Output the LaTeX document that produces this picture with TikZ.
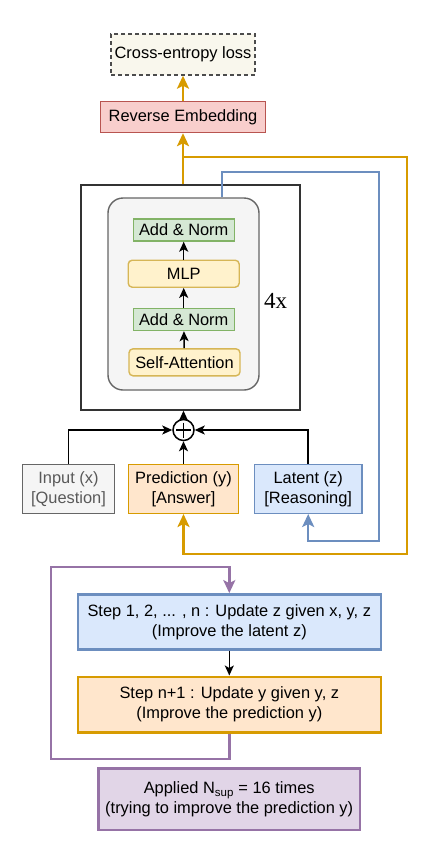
\documentclass[tikz,border=0pt]{standalone}
\usepackage{fontspec}
\setmainfont{Liberation Sans}
\newfontfamily\timesfont{Liberation Serif}
\usetikzlibrary{arrows.meta}

\definecolor{lossfill}{HTML}{F9F7ED}
\definecolor{revfill}{HTML}{F8CECC}
\definecolor{revdraw}{HTML}{B85450}
\definecolor{greenfill}{HTML}{D5E8D4}
\definecolor{greendraw}{HTML}{82B366}
\definecolor{yellowfill}{HTML}{FFF2CC}
\definecolor{yellowdraw}{HTML}{D6B656}
\definecolor{grayfill}{HTML}{F5F5F5}
\definecolor{graydraw}{HTML}{666666}
\definecolor{orangefill}{HTML}{FFE6CC}
\definecolor{orangedraw}{HTML}{D79B00}
\definecolor{bluefill}{HTML}{DAE8FC}
\definecolor{bluedraw}{HTML}{6C8EBF}
\definecolor{purplefill}{HTML}{E1D5E7}
\definecolor{purpledraw}{HTML}{9673A6}

\begin{document}
\begin{tikzpicture}[x=1pt, y=-1pt, font=\fontsize{16.4}{20}\selectfont,
    block/.style={draw, line width=1.4pt, inner sep=0pt, align=center},
    arrow/.style={line width=1.5pt, -{Stealth[length=10pt, width=9pt, inset=2.5pt]}},
    loop/.style={line width=2.6pt, -{Stealth[length=13pt, width=12pt, inset=3pt]}}]
      \useasboundingbox (0,0) rectangle (425,846);

      % Output side
      \node[block, draw=black!70, dash pattern=on 4pt off 3pt, fill=lossfill, minimum width=144pt, minimum height=41pt] (loss) at (183,54.5) {Cross-entropy loss};
      \node[block, draw=revdraw, fill=revfill, minimum width=165pt, minimum height=31pt] (rev) at (183,117) {Reverse Embedding};

      % Transformer
      \node[block, draw=black!80, minimum width=219pt, minimum height=225pt] (outer) at (190.5,297.5) {};
      \node[block, draw=graydraw, fill=grayfill, rounded corners=15pt, minimum width=151pt, minimum height=192pt] (core) at (183.5,294) {};
      \node[block, draw=greendraw, fill=greenfill, minimum width=101pt, minimum height=22pt] (norm1) at (183.7,230) {Add \& Norm};
      \node[block, draw=yellowdraw, fill=yellowfill, rounded corners=4pt, minimum width=111pt, minimum height=27pt] (mlp) at (183.7,273.7) {MLP};
      \node[block, draw=greendraw, fill=greenfill, minimum width=101pt, minimum height=22pt] (norm2) at (183.7,319.5) {Add \& Norm};
      \node[block, draw=yellowdraw, fill=yellowfill, rounded corners=4pt, minimum width=111pt, minimum height=27pt] (attn) at (184.5,362.3) {Self-Attention};
      \node (times) at (275.5,301) {\timesfont\fontsize{23}{26}\selectfont 4x};

      \draw[arrow] (attn) -- (norm2);
      \draw[arrow] (norm2) -- (mlp);
      \draw[arrow] (mlp) -- (norm1);

      % Inputs
      \node[circle, draw, line width=1.5pt, fill=white, minimum size=21pt, inner sep=0pt] (plus) at (183.5,430) {};
      \draw[line width=1.8pt] ([yshift=7.5pt]plus.center) -- ([yshift=-7.5pt]plus.center)
        ([xshift=-7.5pt]plus.center) -- ([xshift=7.5pt]plus.center);
      \node[block, draw=graydraw, fill=grayfill, text=black!65, minimum width=91.6pt, minimum height=49pt] (inp) at (68.5,488.8) {Input (x)\\{}[Question]};
      \node[block, draw=orangedraw, fill=orangefill, minimum width=110.4pt, minimum height=49pt] (pred) at (183.5,488.8) {Prediction (y)\\{}[Answer]};
      \node[block, draw=bluedraw, fill=bluefill, minimum width=107.7pt, minimum height=49pt] (lat) at (308.2,488.8) {Latent (z)\\{}[Reasoning]};

      \draw[arrow] (inp.north) |- (plus.west);
      \draw[arrow] (lat.north) |- (plus.east);
      \draw[arrow] (pred) -- (plus);
      \draw[arrow] (plus) -- (plus |- outer.south);

      % Recursion
      \coordinate (ojoin) at (183,157);
      \coordinate (oright) at (407,554);
      \coordinate (btop) at (222,172);
      \coordinate (bright) at (379,541);
      \draw[loop, draw=orangedraw] (rev |- outer.north) -- (rev);
      \draw[loop, draw=orangedraw] (rev) -- (loss);
      \draw[loop, draw=orangedraw] (ojoin) -| (oright) -| (pred.south);
      \draw[loop, draw=bluedraw, line width=2.4pt] (btop |- core.north) -- (btop) -| (bright) -| (lat.south);

      % Steps
      \node[block, draw=bluedraw, fill=bluefill, line width=2.4pt, minimum width=303pt, minimum height=55pt] (step1) at (229.3,621.8) {Step 1, 2, ... , n : Update z given x, y, z\\(Improve the latent z)};
      \node[block, draw=orangedraw, fill=orangefill, line width=2.4pt, minimum width=303pt, minimum height=55.6pt] (stepn) at (229.3,704.5) {Step n+1 : Update y given y, z\\(Improve the prediction y)};
      \node[block, draw=purpledraw, fill=purplefill, line width=2.4pt, minimum width=261.7pt, minimum height=61.7pt] (applied) at (229.2,799.2) {Applied N\textsubscript{sup} = 16 times\\(trying to improve the prediction y)};

      \draw[arrow] (step1) -- (stepn);
      \coordinate (pbottom) at (51,759);
      \coordinate (ptop) at (51,567);
      \draw[loop, draw=purpledraw, line width=2.4pt] (stepn.south) |- (pbottom) -- (ptop) -| (step1.north);
\end{tikzpicture}
\end{document}
